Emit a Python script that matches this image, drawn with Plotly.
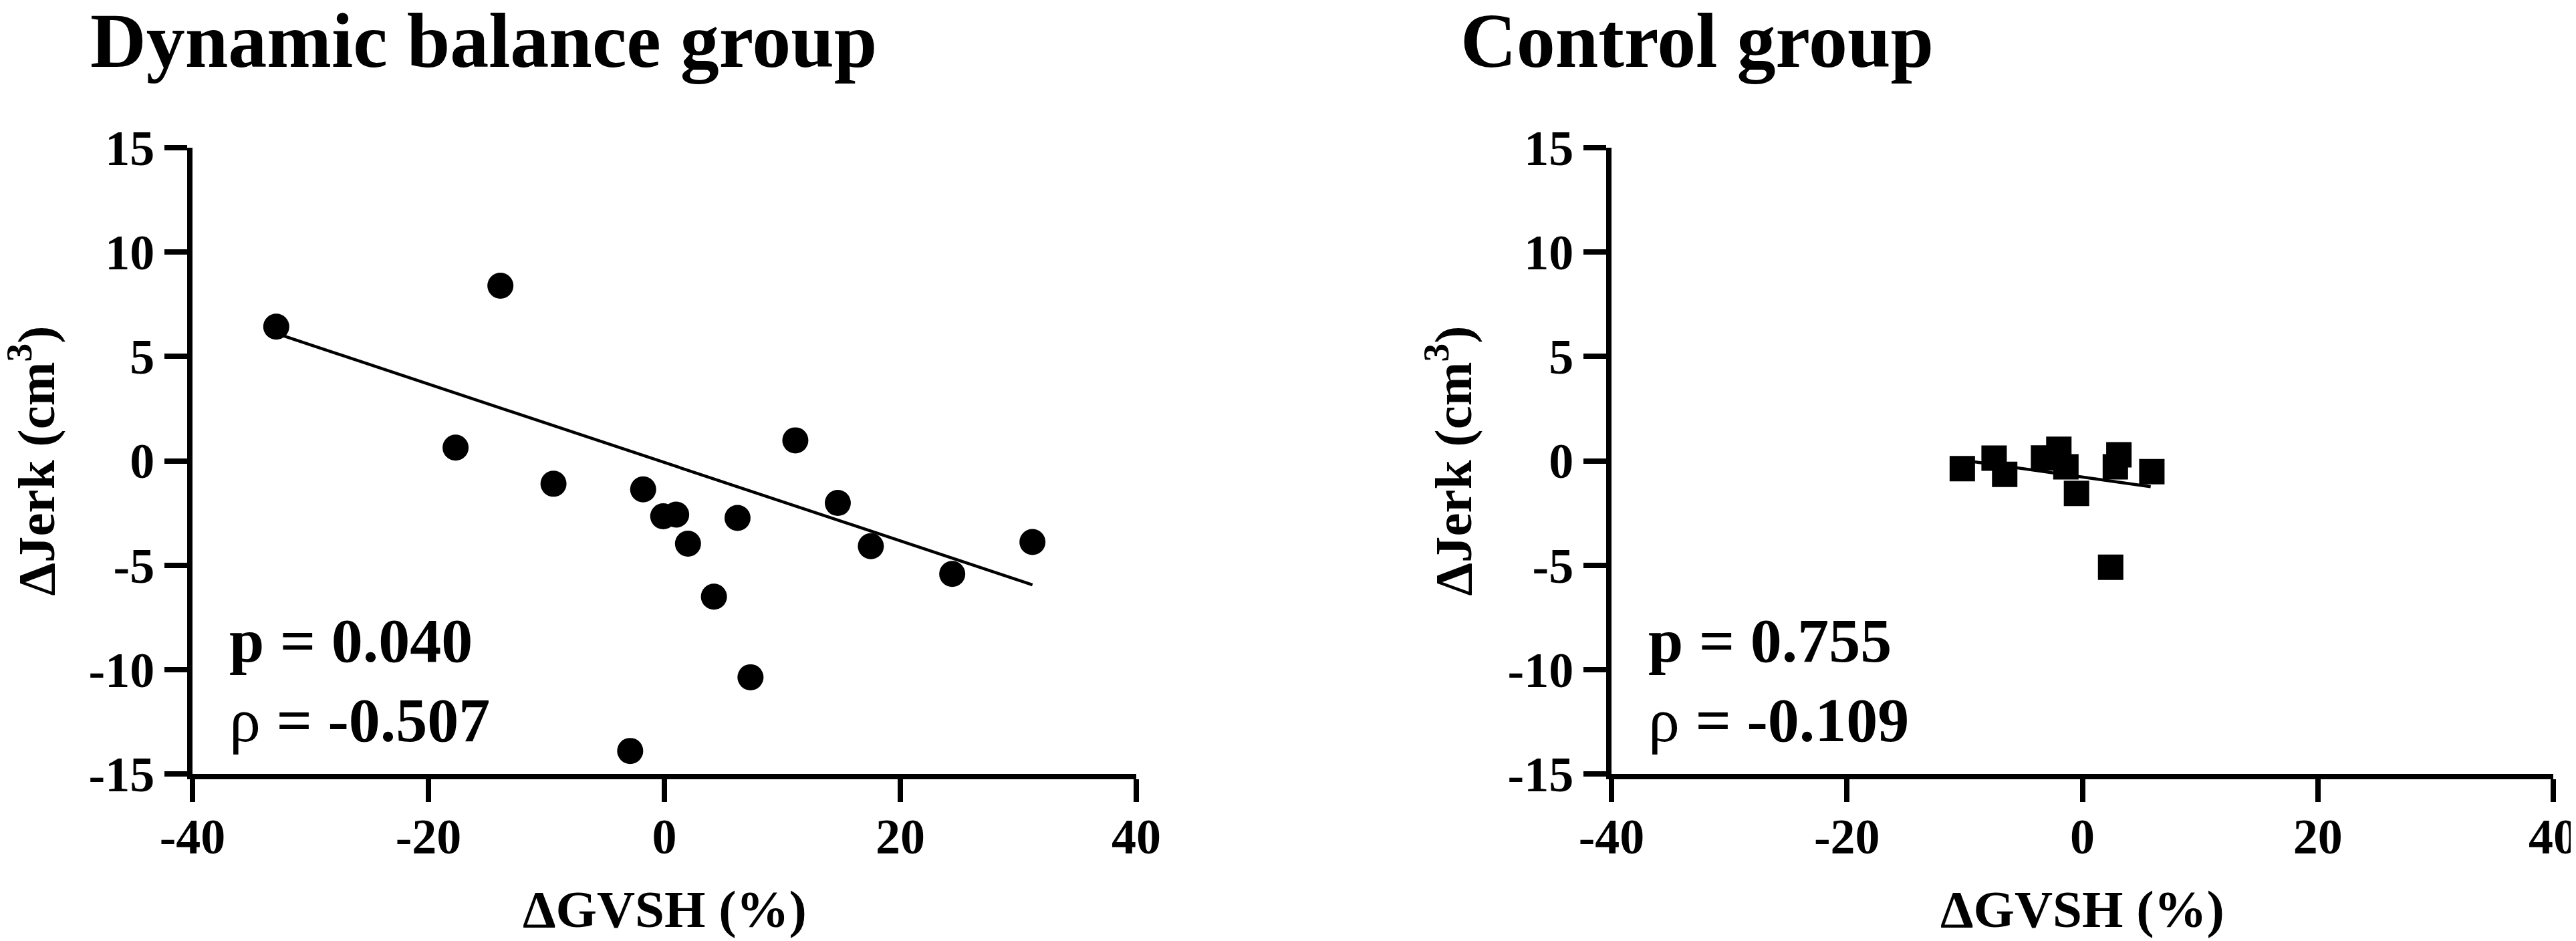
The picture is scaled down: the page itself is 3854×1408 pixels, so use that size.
import plotly.graph_objects as go

# dynamic balance group (circles)
dyn_gvsh = [-32.9, -13.9, -17.7, -9.4, -1.8, -0.1, 1.0, 2.0, 6.2, 4.2,
            7.3, -2.9, 11.1, 14.7, 17.5, 24.4, 31.2]
dyn_jerk = [6.43, 8.39, 0.63, -1.10, -1.37, -2.66, -2.58, -3.97, -2.74, -6.51,
            -10.37, -13.9, 0.98, -2.02, -4.09, -5.42, -3.89]
dyn_fit_x = [-32.9, 31.2]
dyn_fit_y = [6.1, -5.94]

# control group (squares)
ctl_gvsh = [-10.2, -7.5, -6.6, -3.3, -2.0, -1.4, -0.5, 2.4, 2.8, 3.1, 5.9]
ctl_jerk = [-0.38, 0.13, -0.65, 0.14, 0.55, -0.29, -1.56, -5.10, -0.29, 0.29, -0.52]
ctl_fit_x = [-9.8, 5.8]
ctl_fit_y = [0.0, -1.24]

panel_titles = ["Dynamic balance group", "Control group"]
p_texts = ["p = 0.040", "p = 0.755"]
rho_texts = ["-0.507", "-0.109"]
x_ticks = [-40, -20, 0, 20, 40]
x_ticktext = ["-40", "-20", "0", "20", "40"]
y_ticks = [-15, -10, -5, 0, 5, 10, 15]
y_ticktext = ["-15", "-10", "-5", "0", "5", "10", "15"]

W, H = 3854, 1408
FONT = "Liberation Serif"

fig = go.Figure()

fig.add_trace(go.Scatter(x=dyn_gvsh, y=dyn_jerk, mode="markers",
                         marker=dict(symbol="circle", size=39, color="black"),
                         xaxis="x", yaxis="y", showlegend=False))
fig.add_trace(go.Scatter(x=dyn_fit_x, y=dyn_fit_y, mode="lines",
                         line=dict(color="black", width=4.5),
                         xaxis="x", yaxis="y", showlegend=False))
fig.add_trace(go.Scatter(x=ctl_gvsh, y=ctl_jerk, mode="markers",
                         marker=dict(symbol="square", size=38, color="black"),
                         xaxis="x2", yaxis="y2", showlegend=False))
fig.add_trace(go.Scatter(x=ctl_fit_x, y=ctl_fit_y, mode="lines",
                         line=dict(color="black", width=4.5),
                         xaxis="x2", yaxis="y2", showlegend=False))

tickfont = dict(family=FONT, size=74, color="black", weight="bold")
axis_common = dict(showline=True, linecolor="black", linewidth=8,
                   ticks="outside", ticklen=34, tickwidth=8, tickcolor="black",
                   showgrid=False, zeroline=False, tickfont=tickfont,
                   automargin=False)

y_dom = [1 - 1150 / H, 1 - 213 / H]
fig.update_layout(
    width=W, height=H,
    margin=dict(l=0, r=0, t=0, b=0, pad=0),
    paper_bgcolor="white", plot_bgcolor="white",
    xaxis=dict(domain=[280 / W, 1692 / W], range=[-40, 40], tickvals=x_ticks,
               ticktext=x_ticktext, anchor="y", ticklabelstandoff=-12, **axis_common),
    yaxis=dict(domain=y_dom, range=[-15, 15], tickvals=y_ticks,
               ticktext=y_ticktext, anchor="x", **axis_common),
    xaxis2=dict(domain=[2403 / W, 3812 / W], range=[-40, 40], tickvals=x_ticks,
                ticktext=x_ticktext, anchor="y2", ticklabelstandoff=-12, **axis_common),
    yaxis2=dict(domain=y_dom, range=[-15, 15], tickvals=y_ticks,
                ticktext=y_ticktext, anchor="x2", **axis_common),
)

title_x = [125, 2175]
ytitle_x = [40, 2160]
for i, (xr, yr) in enumerate([("x", "y"), ("x2", "y2")]):
    fig.add_annotation(text="<b>" + panel_titles[i] + "</b>", xref="paper", yref="paper",
                       x=title_x[i] / W, y=1 - 54 / H, xanchor="left", yanchor="middle",
                       showarrow=False, font=dict(family=FONT, size=116, color="black"))
    fig.add_annotation(text="<b>ΔJerk (cm<sup>3</sup>)</b>", xref="paper", yref=yr,
                       x=ytitle_x[i] / W, y=0, xanchor="center", yanchor="middle",
                       textangle=-90, showarrow=False,
                       font=dict(family=FONT, size=79, color="black"))
    fig.add_annotation(text="<b>ΔGVSH (%)</b>", xref=xr, yref="paper",
                       x=0, y=1 - 1352 / H, xanchor="center", yanchor="middle",
                       showarrow=False, font=dict(family=FONT, size=79, color="black"))
    fig.add_annotation(text="<b>" + p_texts[i] + "</b>", xref=xr, yref=yr,
                       x=-37.0, y=-8.6, xanchor="left", yanchor="middle",
                       showarrow=False, font=dict(family=FONT, size=94, color="black"))
    fig.add_annotation(text="ρ<b> = " + rho_texts[i] + "</b>", xref=xr, yref=yr,
                       x=-37.0, y=-12.4, xanchor="left", yanchor="middle",
                       showarrow=False, font=dict(family=FONT, size=94, color="black"))

fig.write_html("out.html")
